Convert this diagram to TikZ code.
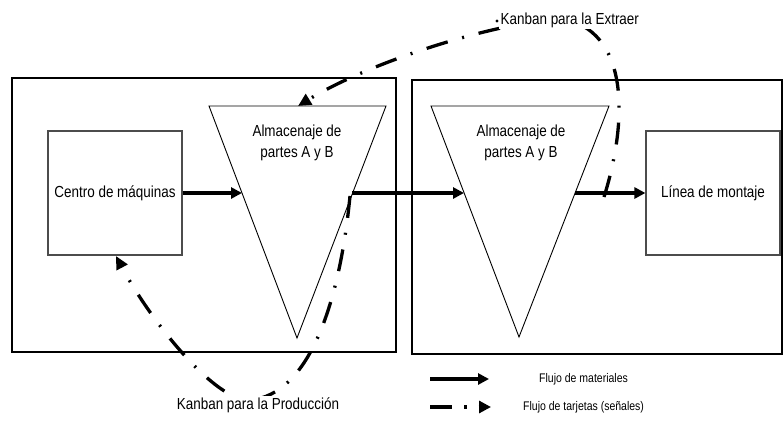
\documentclass[tikz,border=0pt]{standalone}
\usepackage{fontspec}
\setmainfont{Liberation Sans}[FakeStretch=0.84]
\usetikzlibrary{arrows.meta}
\begin{document}
\begin{tikzpicture}[x=1pt,y=-1pt,
  txt/.style={font=\fontsize{16}{21}\selectfont, align=center, inner sep=0pt},
  legtxt/.style={font=\fontsize{12.5}{15}\selectfont, anchor=west, inner sep=0pt},
  plant/.style={draw=black, line width=1.5pt},
  machbox/.style={draw=black!70, line width=1.2pt},
  storage/.style={draw=black, line width=0.9pt},
  matflow/.style={line width=3.6pt, -{Triangle[length=11pt,width=11pt]}},
  cardflow/.style={line width=3.3pt, dash pattern=on 22pt off 15pt on 2pt off 15pt, -{Triangle[length=13pt,width=12pt]}},
  cover/.style={fill=white, inner sep=1.5pt}]
\useasboundingbox (0,0) rectangle (783,441);
% plants
\draw[plant] (12,78) rectangle (396,352);
\draw[plant] (412,80) rectangle (782,354);
% boxes
\node[machbox, minimum width=134pt, minimum height=124pt, inner sep=0pt] (centro) at (115,193) {};
\node[txt] (centrotxt) at (115,193) {Centro de máquinas};
\node[machbox, minimum width=134pt, minimum height=124pt, inner sep=0pt] (linea) at (713,193) {};
\node[txt] (lineatxt) at (713,193) {Línea de montaje};
% storage triangles
\draw[storage] (209,106) coordinate (t1a) -- (386,106) coordinate (t1b) -- (297,338) coordinate (t1c) -- cycle;
\draw[storage] (431,106) coordinate (t2a) -- (609,106) coordinate (t2b) -- (519,337) coordinate (t2c) -- cycle;
\node[txt] (alm1) at (297,143) {Almacenaje de\\partes A y B};
\node[txt] (alm2) at (521,143) {Almacenaje de\\partes A y B};
% material flow
\coordinate (t1in) at (242,193);
\coordinate (t1out) at (352,193);
\coordinate (t2in) at (464,193);
\coordinate (t2out) at (575,193);
\draw[matflow] (centro.east |- t1in) -- (t1in);
\draw[matflow] (t1out) -- (t2in);
\draw[matflow] (t2out) -- (linea.west |- t2out);
% kanban extraction
\coordinate (exstart) at (604,197);
\coordinate (extop) at (560,18);
\coordinate (extip) at (298,106);
\draw[cardflow] (exstart) .. controls (628,120) and (630,30) .. (extop)
  .. controls (470,28) and (360,68) .. (extip);
\node[txt, cover, anchor=west] (extxt) at (499,20) {Kanban para la Extraer};
\fill (497,21) circle (1.6pt);
% kanban production
\coordinate (prstart) at (350,196);
\coordinate (prbot) at (250,400);
\coordinate (prtip) at (116,256);
\draw[cardflow] (prstart) .. controls (340,300) and (310,395) .. (prbot)
  .. controls (215,402) and (150,320) .. (prtip);
\node[txt, cover] (prtxt) at (258,405) {Kanban para la Producción};
% legend
\coordinate (lg1a) at (430,379);
\coordinate (lg1b) at (489,379);
\coordinate (lg2a) at (430,407);
\coordinate (lg2b) at (491,407);
\draw[matflow] (lg1a) -- (lg1b);
\draw[line width=3.3pt, dash pattern=on 22pt off 12pt on 2.5pt off 12pt, -{Triangle[length=12pt,width=12pt]}] (lg2a) -- (lg2b);
\node[legtxt] (lg1t) at (539,379) {Flujo de materiales};
\node[legtxt] (lg2t) at (523,407) {Flujo de tarjetas (señales)};
\end{tikzpicture}
\end{document}
